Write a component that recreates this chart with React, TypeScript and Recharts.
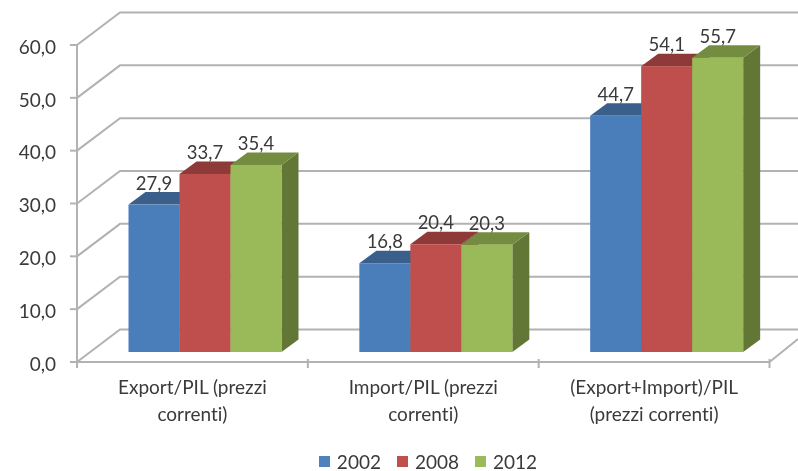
import React from 'react';
import { BarChart, Bar, XAxis, YAxis, CartesianGrid, LabelList, Legend } from 'recharts';

const categories = ['Export/PIL (prezzi correnti)', 'Import/PIL (prezzi correnti)', '(Export+Import)/PIL (prezzi correnti)'];
const categoryLines = [['Export/PIL (prezzi', 'correnti)'], ['Import/PIL (prezzi', 'correnti)'], ['(Export+Import)/PIL', '(prezzi correnti)']];
const values2002 = [27.9, 16.8, 44.7];
const values2008 = [33.7, 20.4, 54.1];
const values2012 = [35.4, 20.3, 55.7];
const yTicks = [0, 10, 20, 30, 40, 50, 60];

const data = categories.map((name, i) => ({ name, y2002: values2002[i], y2008: values2008[i], y2012: values2012[i] }));

const FONT = 'Lato, Carlito, sans-serif';
const TEXT = '#3a3a3a';
const LINE = '#b2b2b2';
const SHIFT_X = 13;
const SHIFT_Y = 10;
const DEPTH_X = 17;
const DEPTH_Y = 12.5;
const WALL_X = 43;
const WALL_Y = 32.5;
const PAD_RIGHT = 28.5;

const comma = (v: number) => v.toFixed(1).replace('.', ',');

const Bar3D = (colors: { front: string; top: string; side: string }) => (p: any) => {
  const x = p.x + SHIFT_X;
  const y = p.y - SHIFT_Y;
  const w = p.width;
  const h = p.height;
  return (
    <g>
      <polygon points={`${x + w},${y} ${x + w + DEPTH_X},${y - DEPTH_Y} ${x + w + DEPTH_X},${y + h - DEPTH_Y} ${x + w},${y + h}`} fill={colors.side} />
      <polygon points={`${x},${y} ${x + DEPTH_X},${y - DEPTH_Y} ${x + w + DEPTH_X},${y - DEPTH_Y} ${x + w},${y}`} fill={colors.top} />
      <rect x={x} y={y} width={w} height={h} fill={colors.front} />
    </g>
  );
};

const valueLabel = (p: any) => (
  <text
    x={p.x + p.width / 2 + SHIFT_X}
    y={p.y - SHIFT_Y - 15}
    textAnchor="middle"
    fontFamily={FONT}
    fontSize={18.5}
    fill={TEXT}
  >
    {comma(p.value)}
  </text>
);

const wallLine = (p: any) => {
  const { x1, y1, x2 } = p;
  const isFloor = y1 > 350;
  return (
    <g key={`wall-${y1}`}>
      <path d={`M${x1},${y1} L${x1 + WALL_X},${y1 - WALL_Y} L${x2},${y1 - WALL_Y}`} fill="none" stroke={LINE} strokeWidth={2} />
      {isFloor && <path d={`M${x1},${y1} L${x2 - PAD_RIGHT},${y1} L${x2},${y1 - 23}`} fill="none" stroke={LINE} strokeWidth={2} />}
    </g>
  );
};

const CategoryTick = (p: any) => {
  const band = (798 - 77 - PAD_RIGHT) / categoryLines.length;
  const { x, index } = p;
  const y = p.y - 8;
  const lines = categoryLines[index];
  return (
    <g>
      <line x1={x - band / 2} y1={y - 1} x2={x - band / 2} y2={y + 8} stroke={LINE} strokeWidth={2} />
      {index === categoryLines.length - 1 && (
        <line x1={x + band / 2} y1={y - 1} x2={x + band / 2} y2={y + 8} stroke={LINE} strokeWidth={2} />
      )}
      <text x={x} textAnchor="middle" fontFamily={FONT} fontSize={19} fill={TEXT} style={{ fontVariantLigatures: 'none' }}>
        {lines.map((l: string, i: number) => (
          <tspan key={i} x={x} y={y + 34 + i * 27}>{l}</tspan>
        ))}
      </text>
    </g>
  );
};

const legendContent = (p: any) => (
  <div style={{ display: 'flex', justifyContent: 'center', paddingLeft: 58, fontFamily: FONT, fontSize: 19, color: TEXT, lineHeight: '18px' }}>
    {p.payload.map((e: any) => (
      <div key={e.value} style={{ display: 'flex', alignItems: 'center', margin: '0 8px' }}>
        <span style={{ width: 11, height: 11, background: e.color, marginRight: 7, display: 'inline-block' }} />
        {e.value}
      </div>
    ))}
  </div>
);

export default function App() {
  return (
    <div style={{ position: 'absolute', left: 0, top: 0, width: 798, height: 471, overflow: 'hidden', filter: 'blur(0.55px)' }}>
      <BarChart
        width={798}
        height={471}
        data={data}
        margin={{ top: 45, right: 0, bottom: 51, left: 0 }}
        barCategoryGap={38.5}
        barGap={0}
      >
        <CartesianGrid vertical={false} horizontal={wallLine} />
        <YAxis
          width={77}
          domain={[0, 60]}
          ticks={yTicks}
          tickFormatter={comma}
          tickSize={7}
          tickMargin={14}
          axisLine={{ stroke: LINE, strokeWidth: 2 }}
          tickLine={{ stroke: LINE, strokeWidth: 2 }}
          tick={{ fontFamily: FONT, fontSize: 19, fill: TEXT, dy: 2 }}
        />
        <XAxis
          dataKey="name"
          height={40}
          axisLine={false}
          tickLine={false}
          padding={{ left: 0, right: PAD_RIGHT }}
          interval={0}
          tickMargin={0}
          tick={CategoryTick}
        />
        <Legend verticalAlign="bottom" height={18} wrapperStyle={{ position: 'absolute', left: 0, width: 798, top: 452.5 }} content={legendContent} />
        <Bar dataKey="y2002" name="2002" fill="#4F81BD" isAnimationActive={false} shape={Bar3D({ front: '#4A7EBB', top: '#3A5F8B', side: '#345680' })}>
          <LabelList dataKey="y2002" content={valueLabel} />
        </Bar>
        <Bar dataKey="y2008" name="2008" fill="#C0504D" isAnimationActive={false} shape={Bar3D({ front: '#BE4F4C', top: '#8E3A38', side: '#7F3432' })}>
          <LabelList dataKey="y2008" content={valueLabel} />
        </Bar>
        <Bar dataKey="y2012" name="2012" fill="#9BBB59" isAnimationActive={false} shape={Bar3D({ front: '#9ABA59', top: '#738C40', side: '#627736' })}>
          <LabelList dataKey="y2012" content={valueLabel} />
        </Bar>
      </BarChart>
    </div>
  );
}
